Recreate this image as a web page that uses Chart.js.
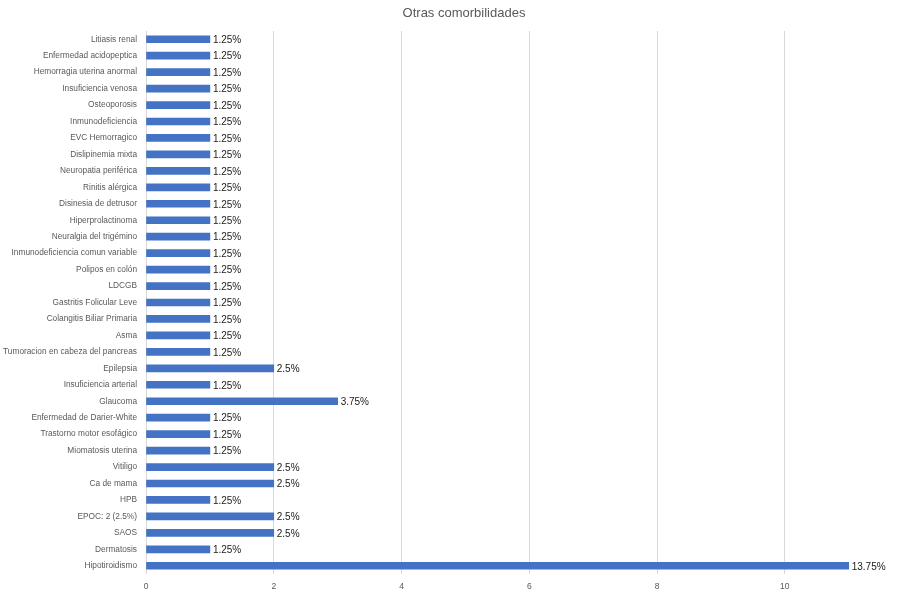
<!DOCTYPE html>
<html>
<head>
<meta charset="utf-8">
<script src="https://cdn.jsdelivr.net/npm/chart.js@4/dist/chart.umd.min.js"></script>
<style>
    html, body { margin: 0; padding: 0; background: #fff; }
    canvas { display: block; }
</style>
</head>
<body>
<canvas id="chart" width="908" height="592"></canvas>
<script>
const categories = [
    'Litiasis renal',
    'Enfermedad acidopeptica',
    'Hemorragia uterina anormal',
    'Insuficiencia venosa',
    'Osteoporosis',
    'Inmunodeficiencia',
    'EVC Hemorragico',
    'Dislipinemia mixta',
    'Neuropatia periférica',
    'Rinitis alérgica',
    'Disinesia de detrusor',
    'Hiperprolactinoma',
    'Neuralgia del trigémino',
    'Inmunodeficiencia comun variable',
    'Polipos en colón',
    'LDCGB',
    'Gastritis Folicular Leve',
    'Colangitis Biliar Primaria',
    'Asma',
    'Tumoracion en cabeza del pancreas',
    'Epilepsia',
    'Insuficiencia arterial',
    'Glaucoma',
    'Enfermedad de Darier-White',
    'Trastorno motor esofágico',
    'Miomatosis uterina',
    'Vitiligo',
    'Ca de mama',
    'HPB',
    'EPOC: 2 (2.5%)',
    'SAOS',
    'Dermatosis',
    'Hipotiroidismo',
];

const counts = [
    1, 1, 1, 1, 1, 1, 1, 1, 1, 1,
    1, 1, 1, 1, 1, 1, 1, 1, 1, 1,
    2, 1, 3, 1, 1, 1, 2, 2, 1, 2,
    2, 1, 11,
];

const valueLabels = [
    '1.25%', '1.25%', '1.25%', '1.25%', '1.25%', '1.25%', '1.25%', '1.25%', '1.25%', '1.25%',
    '1.25%', '1.25%', '1.25%', '1.25%', '1.25%', '1.25%', '1.25%', '1.25%', '1.25%', '1.25%',
    '2.5%', '1.25%', '3.75%', '1.25%', '1.25%', '1.25%', '2.5%', '2.5%', '1.25%', '2.5%',
    '2.5%', '1.25%', '13.75%',
];

const xTicks = [0, 2, 4, 6, 8, 10];

const FONT = '"Liberation Sans", Arial, sans-serif';

// title and bar-end labels, drawn by hand
const extras = {
    id: 'extras',
    afterDatasetsDraw(chart) {
        const ctx = chart.ctx;
        const meta = chart.getDatasetMeta(0);
        ctx.save();
        ctx.font = '10px ' + FONT;
        ctx.fillStyle = '#1a1a1a';
        ctx.textBaseline = 'middle';
        ctx.textAlign = 'left';
        meta.data.forEach((bar, i) => {
            ctx.fillText(valueLabels[i], bar.x + 3, bar.y + 1);
        });
        ctx.font = '13px ' + FONT;
        ctx.fillStyle = '#595959';
        ctx.textAlign = 'center';
        ctx.fillText('Otras comorbilidades', 464, 13);
        ctx.restore();
    },
};

new Chart(document.getElementById('chart').getContext('2d'), {
    type: 'bar',
    data: {
        labels: categories,
        datasets: [
            {
                data: counts,
                backgroundColor: '#4472C4',
                barThickness: 7,
            },
        ],
    },
    options: {
        indexAxis: 'y',
        responsive: false,
        animation: false,
        layout: {
            padding: { top: 31, left: 0, right: 5, bottom: 0 },
        },
        plugins: {
            legend: { display: false },
            tooltip: { enabled: false },
        },
        scales: {
            x: {
                min: 0,
                max: 11.85,
                afterBuildTicks(axis) {
                    axis.ticks = xTicks.map((v) => ({ value: v }));
                },
                afterFit(axis) {
                    axis.height = 18;
                },
                grid: { color: '#d9d9d9', drawTicks: false },
                border: { display: false },
                ticks: {
                    padding: 8,
                    color: '#595959',
                    font: { size: 8.5, family: FONT },
                },
            },
            y: {
                afterFit(axis) {
                    axis.width = 146;
                },
                grid: { display: false, drawTicks: false },
                border: { display: false },
                ticks: {
                    padding: 9,
                    autoSkip: false,
                    color: '#595959',
                    font: { size: 8.3, family: FONT },
                },
            },
        },
    },
    plugins: [extras],
});
</script>
</body>
</html>
